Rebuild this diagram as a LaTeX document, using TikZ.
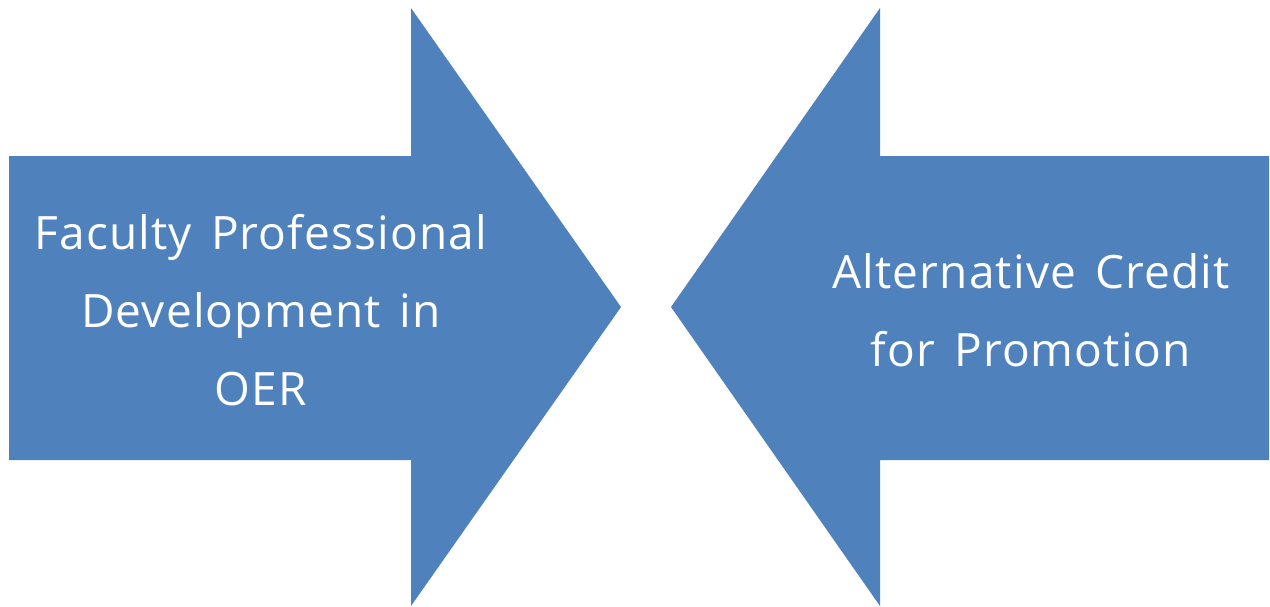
\documentclass[tikz,border=0pt]{standalone}
\usepackage{fontspec}
\setmainfont{Open Sans}[LetterSpace=2.5,WordSpace=1.45]
\definecolor{arrowblue}{HTML}{4F81BD}
\begin{document}
\begin{tikzpicture}[x=1pt,y=-1pt,
  arrowshape/.style={fill=arrowblue,draw=none},
  label/.style={text=white,align=center,font=\fontsize{46}{78}\selectfont,inner sep=0pt}]
\useasboundingbox (0,0) rectangle (1270,606);
\fill[arrowshape] (9,156) -- (411,156) -- (411,8) -- (621,307) -- (411,606) -- (411,460) -- (9,460) -- cycle;
\fill[arrowshape] (1269,156) -- (880,156) -- (880,8) -- (671,307) -- (880,606) -- (880,460) -- (1269,460) -- cycle;
\node[label] (left) at (261,310) {Faculty Professional\\Development in\\OER};
\node[label] (right) at (1031,310) {Alternative Credit\\for Promotion};
\end{tikzpicture}
\end{document}
